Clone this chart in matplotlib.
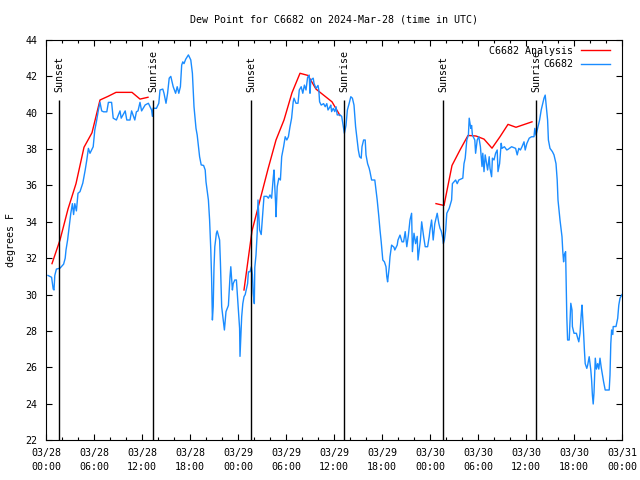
import numpy as np
import matplotlib
matplotlib.use("Agg")
import matplotlib.pyplot as plt
from matplotlib.ticker import MultipleLocator, FixedLocator

# time axis: hours since 2024-03-28 00:00 UTC
obs_hours = [
    0.25, 0.7, 0.9, 1.0, 1.1, 1.3, 1.75, 2.2, 2.4, 2.5, 2.7, 2.9, 3.1, 3.3, 3.45, 3.6, 3.8,
    4.0, 4.25, 4.6, 4.9, 5.1, 5.3, 5.5, 5.9, 6.1, 6.3, 6.55, 6.75, 6.96, 7.2, 7.6, 7.8,
    8.2, 8.4, 8.8, 9.25, 9.4, 9.9, 10.1, 10.5, 10.7, 11.1, 11.3, 11.5, 11.75, 11.95, 12.4,
    12.8, 13.2, 13.3, 13.4, 13.8, 14.1, 14.25, 14.6, 14.75, 15.0, 15.2, 15.4, 15.6, 15.9,
    16.2, 16.4, 16.6, 16.8, 16.96, 17.1, 17.25, 17.46, 17.8, 18.1, 18.3, 18.5, 18.75, 18.9,
    19.2, 19.4, 19.7, 19.9, 20.0, 20.3, 20.45, 20.6, 20.7, 20.8, 20.9, 21.0, 21.1, 21.3,
    21.4, 21.7, 21.8, 21.96, 22.2, 22.3, 22.5, 22.8, 23.0, 23.1, 23.3, 23.4, 23.6, 23.8,
    24.04, 24.2, 24.25, 24.46, 24.6, 24.75, 24.9, 25.2, 25.3, 25.5, 25.67, 25.8, 25.9,
    26.04, 26.1, 26.25, 26.4, 26.5, 26.7, 26.9, 27.1, 27.25, 27.6, 27.8, 28.0, 28.2, 28.4,
    28.5, 28.7, 28.75, 28.9, 29.1, 29.3, 29.46, 29.7, 29.9, 30.1, 30.3, 30.5, 30.7, 30.9,
    31.0, 31.25, 31.5, 31.66, 31.9, 32.1, 32.3, 32.5, 32.7, 32.9, 33.0, 33.1, 33.4, 33.5,
    33.75, 34.0, 34.1, 34.2, 34.4, 34.7, 34.9, 35.1, 35.25, 35.5, 35.6, 35.7, 35.9, 36.1,
    36.25, 36.4, 36.75, 36.96, 37.2, 37.3, 37.5, 37.67, 37.9, 38.1, 38.3, 38.5, 38.7, 38.9,
    39.04, 39.2, 39.4, 39.5, 39.7, 39.9, 40.0, 40.2, 40.4, 40.5, 40.7, 41.1, 41.25, 41.4,
    41.6, 41.75, 41.9, 42.1, 42.3, 42.5, 42.6, 42.7, 42.9, 43.0, 43.2, 43.5, 43.6, 43.9,
    44.0, 44.25, 44.5, 44.7, 44.9, 45.1, 45.3, 45.5, 45.7, 45.8, 46.0, 46.2, 46.4, 46.5,
    46.8, 46.96, 47.2, 47.4, 47.7, 47.9, 48.0, 48.2, 48.4, 48.6, 48.9, 49.1, 49.25, 49.4,
    49.6, 49.67, 49.8, 49.96, 50.1, 50.4, 50.7, 50.8, 51.0, 51.2, 51.4, 51.6, 52.1, 52.25,
    52.4, 52.6, 52.8, 52.9, 53.1, 53.2, 53.3, 53.6, 53.7, 53.9, 54.1, 54.3, 54.5, 54.6,
    54.75, 54.9, 55.2, 55.4, 55.5, 55.7, 55.8, 56.0, 56.2, 56.4, 56.5, 56.7, 56.9, 57.0,
    57.3, 57.6, 57.8, 58.2, 58.7, 58.9, 59.1, 59.3, 59.5, 59.75, 59.9, 60.1, 60.4, 60.7,
    61.0, 61.1, 61.25, 61.4, 61.7, 61.9, 62.1, 62.25, 62.4, 62.5, 62.7, 62.8, 63.0, 63.3,
    63.5, 63.75, 63.9, 64.0, 64.25, 64.5, 64.6, 64.7, 64.8, 64.95, 65.0, 65.1, 65.2, 65.4,
    65.6, 65.75, 65.8, 66.0, 66.3, 66.4, 66.6, 66.75, 66.9, 67.0, 67.2, 67.3, 67.4, 67.6,
    67.7, 67.9, 68.0, 68.1, 68.2, 68.3, 68.4, 68.5, 68.66, 68.8, 68.96, 69.1, 69.25, 69.4,
    69.7, 69.9, 70.4, 70.5, 70.6, 70.7, 70.85, 70.9, 71.25, 71.46, 71.6, 71.75, 72.0,
]
obs_dewpt = [
    31.05, 30.95, 30.3, 30.25, 31.05, 31.4, 31.45, 31.67, 32.0, 32.45, 33.0, 33.73, 34.47, 35.0, 34.4, 35.0, 34.6,
    35.57, 35.66, 36.13, 36.85, 37.4, 38.04, 37.77, 38.13, 39.05, 39.5, 40.15, 40.57, 40.1, 40.05, 40.05, 40.57,
    40.57, 39.7, 39.6, 40.1, 39.7, 40.1, 39.6, 39.6, 40.1, 39.6, 40.05, 40.1, 40.57, 40.1, 40.43,
    40.52, 40.15, 39.8, 40.25, 40.24, 40.52, 41.25, 41.3, 41.07, 40.52, 41.07, 41.9, 42.0, 41.43,
    41.07, 41.43, 41.07, 41.43, 42.62, 42.8, 42.7, 42.94, 43.18, 42.9, 42.17, 40.33, 39.14, 38.77,
    37.58, 37.13, 37.1, 36.85, 36.2, 35.2, 34.1, 32.45, 30.9, 28.6, 29.33, 31.5, 32.63, 33.37,
    33.5, 33.0, 31.8, 29.33, 28.4, 28.05, 29.06, 29.4, 30.98, 31.53, 30.25, 30.6, 30.8, 30.8,
    29.24, 28.14, 26.6, 28.78, 29.5, 29.88, 30.0, 30.6, 31.25, 31.25, 31.53, 31.1, 30.07,
    29.5, 31.5, 32.17, 33.4, 35.2, 33.55, 33.3, 34.47, 35.4, 35.4, 35.3, 35.48, 35.3, 36.4,
    36.85, 35.0, 34.28, 35.93, 36.4, 36.3, 37.58, 38.13, 38.68, 38.5, 38.68, 39.23, 39.7, 40.6,
    40.8, 40.52, 40.52, 41.25, 41.43, 41.07, 41.52, 41.25, 41.94, 42.07, 41.07, 41.8, 41.9, 41.62,
    41.34, 41.5, 41.25, 40.6, 40.42, 40.5, 40.33, 40.5, 40.15, 40.33, 40.42, 40.06, 40.24, 40.06,
    40.33, 39.88, 39.88, 39.8, 39.14, 38.87, 39.3, 40.15, 40.52, 40.88, 40.8, 40.42, 39.23, 38.5,
    37.95, 37.58, 37.5, 38.13, 38.5, 38.5, 37.68, 37.2, 36.94, 36.75, 36.3, 36.3, 35.75, 35.2,
    34.3, 33.55, 32.9, 31.9, 31.8, 31.53, 30.98, 30.7, 31.5, 32.08, 32.72, 32.6, 32.45, 32.72,
    33.0, 33.27, 32.9, 32.9, 33.46, 32.63, 33.27, 34.1, 34.47, 32.36, 33.37, 32.8, 33.2, 31.9,
    33.0, 34.0, 33.2, 32.63, 32.63, 33.18, 33.55, 34.1, 33.0, 33.9, 34.47, 33.92, 33.64, 33.5,
    33.1, 32.8, 33.0, 33.55, 34.47, 34.74, 35.2, 36.1, 36.2, 36.3, 36.1, 36.3, 36.4, 37.2,
    37.5, 38.5, 38.77, 39.7, 39.14, 39.3, 38.77, 38.5, 37.77, 38.5, 38.68, 38.13, 37.04, 37.77,
    36.76, 37.68, 36.85, 37.58, 36.94, 36.48, 37.5, 37.4, 37.77, 37.95, 36.76, 37.2, 38.32, 38.04,
    38.13, 37.95, 38.0, 38.13, 38.04, 37.68, 38.04, 37.95, 38.13, 38.4, 37.95, 38.3, 38.6, 38.68,
    38.68, 39.14, 38.77, 39.05, 39.6, 40.15, 40.52, 40.8, 40.97, 40.52, 39.6, 38.5, 38.04, 37.86,
    37.68, 37.2, 36.3, 35.2, 34.1, 33.18, 32.36, 31.8, 32.2, 32.36, 31.17, 28.78, 27.5, 27.5,
    29.52, 29.15, 28.24, 27.87, 27.87, 27.7, 27.4, 27.87, 28.88, 29.42, 27.87, 26.95, 26.2, 25.94,
    26.1, 26.58, 26.2, 25.85, 25.3, 24.47, 23.98, 24.6, 26.5, 25.9, 26.2, 25.9, 26.5, 26.0,
    25.2, 24.75, 24.75, 25.57, 27.3, 28.05, 27.8, 28.24, 28.24, 28.69, 29.42, 29.8, 30.0,
]

# hourly analysis, three 12-hour runs separated by gaps
ana_hours = [
    0.75, 1.75, 2.75, 3.75, 4.75, 5.75, 6.75, 7.75, 8.75, 9.75, 10.75, 11.75, 12.75, np.nan,
    24.75, 25.75, 26.75, 27.75, 28.75, 29.75, 30.75, 31.75, 32.75, 33.75, 34.75, 35.75, 36.75, np.nan,
    48.75, 49.75, 50.75, 51.75, 52.75, 53.75, 54.75, 55.75, 56.75, 57.75, 58.75, 59.75, 60.75,
]
ana_dewpt = [
    31.7, 33.0, 34.7, 36.1, 38.1, 38.9, 40.7, 40.9, 41.12, 41.12, 41.12, 40.75, 40.85, np.nan,
    30.25, 33.5, 35.2, 36.9, 38.5, 39.6, 41.1, 42.17, 42.05, 41.3, 40.95, 40.6, 39.85, np.nan,
    35.0, 34.9, 37.1, 37.95, 38.75, 38.72, 38.55, 38.05, 38.68, 39.36, 39.2, 39.35, 39.5,
]

sunset_hours = [1.68, 25.67, 49.67]
sunrise_hours = [13.4, 37.3, 61.3]

tick_hours = list(range(0, 73, 6))
tick_labels = ["03/28\n00:00", "03/28\n06:00", "03/28\n12:00", "03/28\n18:00",
               "03/29\n00:00", "03/29\n06:00", "03/29\n12:00", "03/29\n18:00",
               "03/30\n00:00", "03/30\n06:00", "03/30\n12:00", "03/30\n18:00",
               "03/31\n00:00"]

FONT = "DejaVu Sans Mono"
FS = 7.2
plt.rcParams["font.family"] = FONT
plt.rcParams["font.size"] = FS

fig = plt.figure(figsize=(6.4, 4.8), dpi=100)
ax = fig.add_axes([46 / 640, 1 - 440 / 480, 576 / 640, 400 / 480])

ax.plot(ana_hours, ana_dewpt, color="red", lw=1.0, label="C6682 Analysis")
ax.plot(obs_hours, obs_dewpt, color="#1a8cff", lw=1.0, label="C6682")

for h in sunset_hours:
    ax.vlines(h, 22, 40.7, color="black", lw=1.0)
    ax.text(h, 41.14, "Sunset", rotation=90, ha="center", va="bottom", fontsize=FS)
for h in sunrise_hours:
    ax.vlines(h, 22, 40.7, color="black", lw=1.0)
    ax.text(h, 41.14, "Sunrise", rotation=90, ha="center", va="bottom", fontsize=FS)

ax.set_xlim(0, 72)
ax.set_ylim(22, 44)
ax.xaxis.set_major_locator(FixedLocator(tick_hours))
ax.set_xticklabels(tick_labels, linespacing=1.45)
ax.xaxis.set_minor_locator(MultipleLocator(2))
ax.yaxis.set_major_locator(MultipleLocator(2))

ax.tick_params(which="both", direction="in", top=True, right=True, width=0.8, labelsize=FS)
ax.tick_params(which="major", length=4.5)
ax.tick_params(which="minor", length=2.3)
ax.tick_params(axis="x", pad=6)
ax.tick_params(axis="y", pad=6)
for s in ax.spines.values():
    s.set_linewidth(0.8)

ax.set_ylabel("degrees F", fontsize=FS, labelpad=7)
fig.text(334 / 640, 1 - 20 / 480, "Dew Point for C6682 on 2024-Mar-28 (time in UTC)",
         ha="center", va="center", fontsize=FS)

leg = ax.legend(loc="upper right", frameon=False, markerfirst=False, handlelength=2.9,
                handletextpad=0.8, labelspacing=0.35, fontsize=FS,
                bbox_to_anchor=(0.99, 1.0), borderaxespad=0.2)

fig.savefig("out.png", dpi=100)
